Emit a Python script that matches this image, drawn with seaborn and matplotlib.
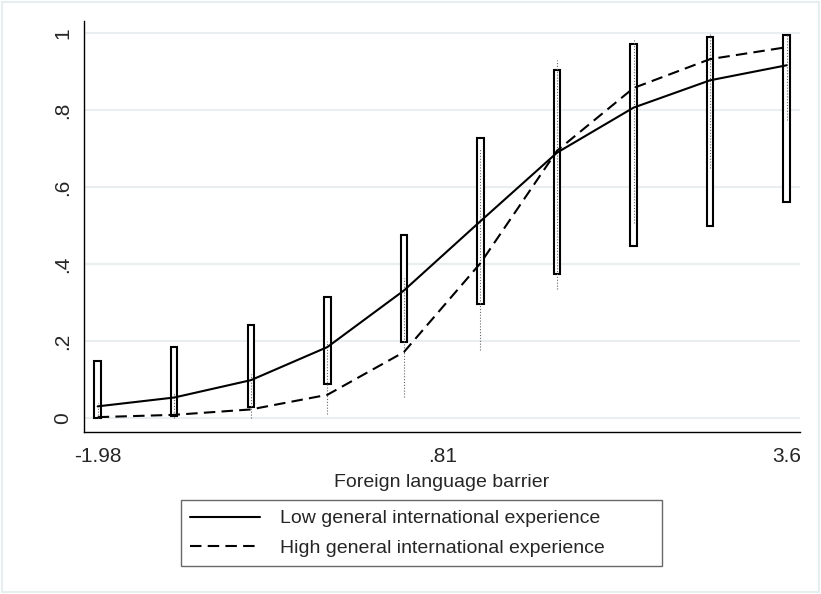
import numpy as np
import pandas as pd
import matplotlib
matplotlib.use("Agg")
import matplotlib.pyplot as plt
import seaborn as sns
from matplotlib.lines import Line2D
from matplotlib.patches import Rectangle

# Predicted probabilities over the foreign language barrier scale
barrier = [-1.98, -1.36, -0.74, -0.12, 0.50, 1.12, 1.74, 2.36, 2.98, 3.60]
low_pred = [0.031, 0.054, 0.099, 0.185, 0.332, 0.512, 0.690, 0.807, 0.878, 0.917]
high_pred = [0.003, 0.009, 0.023, 0.061, 0.172, 0.403, 0.695, 0.858, 0.933, 0.964]

# Confidence intervals: low experience (boxes), high experience (dotted)
low_ci_lo = [0.000, 0.006, 0.030, 0.088, 0.198, 0.298, 0.376, 0.447, 0.499, 0.563]
low_ci_hi = [0.149, 0.185, 0.242, 0.314, 0.475, 0.729, 0.906, 0.971, 0.991, 0.996]
high_ci_lo = [0.000, 0.000, 0.000, 0.012, 0.055, 0.178, 0.337, 0.506, 0.651, 0.774]
high_ci_hi = [0.039, 0.068, 0.116, 0.200, 0.365, 0.700, 0.930, 0.986, 0.997, 0.999]

groups = ["Low general international experience", "High general international experience"]
x_ticks = [-1.98, 0.81, 3.6]
x_ticklabels = ["-1.98", ".81", "3.6"]
y_ticks = [0, 0.2, 0.4, 0.6, 0.8, 1.0]
y_ticklabels = ["0", ".2", ".4", ".6", ".8", "1"]

sns.set_style("white")
plt.rcParams["font.family"] = ["Liberation Sans", "DejaVu Sans"]

W, H = 821, 594
fig = plt.figure(figsize=(W / 100, H / 100), dpi=100)
ax = fig.add_axes([84 / W, 1 - 432 / H, (800 - 84) / W, (432 - 21) / H])

ax.set_xlim(-2.091, 3.708)
ax.set_ylim(-0.0356, 1.032)

# grid
for yv in y_ticks:
    ax.axhline(yv, color="#e9eff1", lw=1.5, zorder=0)

# low experience CI boxes
heights = np.array(low_ci_hi) - np.array(low_ci_lo)
ax.bar(barrier, heights, bottom=low_ci_lo, width=0.052, color="white",
       edgecolor="black", linewidth=1.5, zorder=3)

# high experience CI dotted lines
ax.vlines(barrier, high_ci_lo, high_ci_hi, colors="#666666",
          linestyles=(0, (1, 1.6)), linewidth=0.8, zorder=4)

df = pd.DataFrame({
    "barrier": barrier * 2,
    "prob": low_pred + high_pred,
    "group": [groups[0]] * len(barrier) + [groups[1]] * len(barrier),
})
sns.lineplot(data=df, x="barrier", y="prob", style="group",
             dashes={groups[0]: "", groups[1]: (5.5, 3)},
             color="black", linewidth=1.5, ax=ax, legend=False, zorder=5)

ax.set_xticks(x_ticks)
ax.set_xticklabels(x_ticklabels)
ax.set_yticks(y_ticks)
ax.set_yticklabels(y_ticklabels, rotation=90, va="center")
ax.tick_params(axis="both", direction="out", length=5.5, width=1,
               color="#777777", labelsize=15)
ax.tick_params(axis="x", pad=5)
ax.tick_params(axis="y", pad=3)
ax.set_xlabel("Foreign language barrier", fontsize=14, labelpad=6)
ax.set_ylabel("")

for side in ["top", "right"]:
    ax.spines[side].set_visible(False)
for side in ["left", "bottom"]:
    ax.spines[side].set_color("black")
    ax.spines[side].set_linewidth(1.0)

handles = [
    Line2D([], [], color="black", lw=1.5, linestyle="-"),
    Line2D([], [], color="black", lw=1.5, linestyle=(0, (5.5, 3))),
]
leg = fig.legend(handles, groups, loc="lower left",
                 bbox_to_anchor=(181 / W, 1 - 566 / H, (662 - 181) / W, (566 - 499) / H),
                 mode="expand", fontsize=14, frameon=True, fancybox=False,
                 edgecolor="#444444", handlelength=3.6, handletextpad=1.0,
                 borderpad=0.48, labelspacing=0.6, borderaxespad=0)
leg.get_frame().set_linewidth(1.0)

fig.patches.append(Rectangle((0.002, 0.003), 0.996, 0.994, transform=fig.transFigure,
                             fill=False, edgecolor="#e6eef0", lw=1.5))

fig.savefig("out.png", dpi=100, facecolor="white")
